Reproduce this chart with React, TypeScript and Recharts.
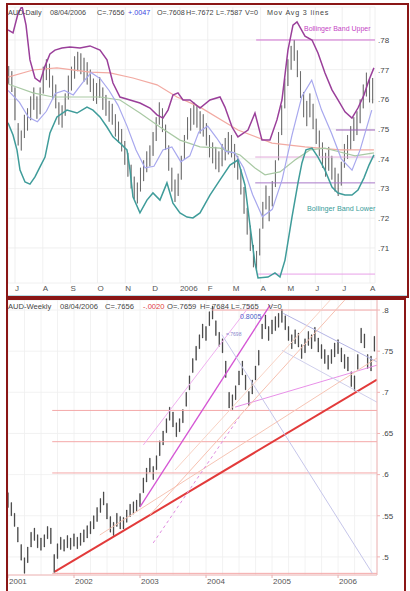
import React from "react";
import { ComposedChart, Bar, Line, XAxis, YAxis, CartesianGrid } from "recharts";

// ---------- daily panel (x = days from 1 Jul 2005) ----------
const DAILY_START = -7;
const DAILY_STEP = 3.5;

const dailyLow = [
  0.7652, 0.7625, 0.753, 0.7445, 0.7428, 0.747, 0.7495, 0.753, 0.7565, 0.7535,
  0.755, 0.762, 0.7665, 0.764, 0.76, 0.757, 0.7515, 0.7505, 0.7545, 0.76,
  0.763, 0.767, 0.7695, 0.7685, 0.766, 0.765, 0.7625, 0.7595, 0.7585, 0.7605,
  0.7565, 0.7545, 0.7525, 0.7515, 0.7475, 0.7455, 0.7425, 0.738, 0.734, 0.73,
  0.7265, 0.725, 0.729, 0.7325, 0.7355, 0.7375, 0.741, 0.746, 0.7515, 0.749,
  0.743, 0.736, 0.729, 0.7255, 0.7275, 0.733, 0.74, 0.7465, 0.7495, 0.7515,
  0.7505, 0.7485, 0.7475, 0.7445, 0.7405, 0.7385, 0.7365, 0.7355, 0.7375, 0.7395,
  0.7415, 0.7405, 0.737, 0.733, 0.728, 0.7215, 0.7145, 0.709, 0.7035, 0.702,
  0.7075, 0.7165, 0.723, 0.719, 0.724, 0.7305, 0.7395, 0.748, 0.757, 0.7645,
  0.77, 0.773, 0.7675, 0.7605, 0.754, 0.751, 0.754, 0.75, 0.745, 0.741,
  0.737, 0.734, 0.736, 0.733, 0.729, 0.7275, 0.731, 0.737, 0.74, 0.743,
  0.746, 0.748, 0.752, 0.757, 0.761, 0.759, 0.7587,
];
const dailyHigh = [
  0.7712, 0.7695, 0.764, 0.752, 0.7495, 0.7548, 0.757, 0.761, 0.764, 0.761,
  0.764, 0.771, 0.7735, 0.772, 0.768, 0.765, 0.759, 0.758, 0.762, 0.768,
  0.771, 0.7745, 0.776, 0.7755, 0.774, 0.7725, 0.77, 0.767, 0.7655, 0.7675,
  0.764, 0.7615, 0.7595, 0.7585, 0.755, 0.7525, 0.75, 0.746, 0.742, 0.738,
  0.734, 0.732, 0.737, 0.7395, 0.7425, 0.7445, 0.749, 0.754, 0.759, 0.757,
  0.7515, 0.7445, 0.737, 0.733, 0.735, 0.741, 0.748, 0.754, 0.757, 0.759,
  0.758, 0.756, 0.755, 0.752, 0.748, 0.7455, 0.744, 0.7425, 0.745, 0.747,
  0.749, 0.748, 0.745, 0.741, 0.7365, 0.7305, 0.7235, 0.7175, 0.711, 0.709,
  0.7165, 0.7255, 0.731, 0.7275, 0.7325, 0.7395, 0.749, 0.758, 0.767, 0.7735,
  0.778, 0.78, 0.7765, 0.7695, 0.7625, 0.7595, 0.762, 0.7585, 0.7535, 0.7495,
  0.7455, 0.742, 0.744, 0.741, 0.737, 0.735, 0.739, 0.745, 0.748, 0.751,
  0.754, 0.756, 0.76, 0.765, 0.769, 0.767, 0.7672,
];

const monthTicks = [0, 31, 62, 92, 123, 153, 184, 215, 243, 274, 304, 335, 365, 396];
const monthLabels = ["J", "A", "S", "O", "N", "D", "2006", "F", "M", "A", "M", "J", "J", "A"];
const dailyPriceTicks = [0.71, 0.72, 0.73, 0.74, 0.75, 0.76, 0.77, 0.78];

const bbUpper: [number, number][] = [
  [-7.8, 0.7834], [-2.2, 0.7824], [3.3, 0.7888], [7.8, 0.7914], [12.3, 0.785], [16.7, 0.7733],
  [22.3, 0.7672], [27.9, 0.7659], [33.5, 0.7712], [39, 0.7753], [44.6, 0.7766], [52.4, 0.7773],
  [61.3, 0.7776], [72.5, 0.7773], [83.7, 0.778], [94.8, 0.7766], [102.6, 0.7733], [109.3, 0.7655],
  [117.1, 0.7608], [128.3, 0.7598], [139.4, 0.7588], [150.6, 0.7571], [158.4, 0.7548], [165.1, 0.7537],
  [170.7, 0.7564], [176.2, 0.7615], [181.8, 0.7622], [187.4, 0.7598], [195.2, 0.7598], [206.4, 0.7571],
  [217.5, 0.7598], [228.7, 0.7608], [234.2, 0.7574], [242.1, 0.7507], [248.7, 0.7474], [259.9, 0.7497],
  [267.7, 0.7554], [275.5, 0.7463], [284.4, 0.7463], [292.2, 0.7531], [297.8, 0.7598], [304.5, 0.7766],
  [310.1, 0.785], [314.6, 0.7861], [323.5, 0.7813], [331.3, 0.78], [338, 0.7756], [345.8, 0.7689],
  [353.6, 0.7632], [360.3, 0.7598], [368.1, 0.7558], [375.9, 0.7537], [382.6, 0.7571], [389.3, 0.7615],
  [394.9, 0.7665], [400.4, 0.7706],
];
const bbLower: [number, number][] = [
  [-7.8, 0.7521], [-2.2, 0.748], [2.2, 0.743], [5.6, 0.7362], [11.2, 0.7322], [16.7, 0.7315],
  [22.3, 0.7339], [27.9, 0.7373], [33.5, 0.7406], [39, 0.7487], [46.8, 0.7541], [58, 0.7564],
  [69.2, 0.7554], [80.3, 0.7574], [87, 0.7564], [94.8, 0.7541], [102.6, 0.7507], [109.3, 0.7474],
  [117.1, 0.7453], [124.9, 0.743], [128.3, 0.7362], [131.6, 0.7272], [139.4, 0.7218], [147.2, 0.7261],
  [153.9, 0.7285], [161.7, 0.7261], [169.5, 0.7319], [176.2, 0.7251], [184, 0.7218], [191.9, 0.7204],
  [198.5, 0.7201], [206.4, 0.7218], [217.5, 0.7278], [228.7, 0.7329], [239.8, 0.7379], [248.7, 0.7396],
  [256.5, 0.7312], [262.1, 0.7177], [267.7, 0.7049], [271.1, 0.6999], [282.2, 0.7002], [290, 0.7016],
  [295.6, 0.7002], [301.2, 0.7059], [309, 0.7204], [315.7, 0.7319], [320.1, 0.7386], [324.6, 0.743],
  [331.3, 0.7436], [338, 0.7406], [345.8, 0.7362], [353.6, 0.7305], [360.3, 0.7285], [368.1, 0.7278],
  [375.9, 0.7278], [382.6, 0.7295], [389.3, 0.7336], [394.9, 0.7379], [400.4, 0.7413],
];
const maLong: [number, number][] = [
  [-7.8, 0.7675], [20.1, 0.7699], [46.8, 0.7706], [83.7, 0.7692], [106, 0.7689], [131.6, 0.7672],
  [158.4, 0.7649], [180.7, 0.7608], [206.4, 0.7574], [248.7, 0.7497], [286.7, 0.7453], [323.5, 0.744],
  [362.5, 0.743], [400.4, 0.743],
];
const maMid: [number, number][] = [
  [-7.8, 0.7652], [20.1, 0.7622], [42.4, 0.7608], [69.2, 0.7608], [94.8, 0.7608], [117.1, 0.7598],
  [139.4, 0.7554], [161.7, 0.7507], [184, 0.7463], [206.4, 0.744], [228.7, 0.7436], [251, 0.7413],
  [267.7, 0.7369], [278.9, 0.7346], [295.6, 0.7356], [312.3, 0.7396], [329.1, 0.743], [345.8, 0.7436],
  [362.5, 0.7423], [379.3, 0.741], [400.4, 0.742],
];
const maShort: [number, number][] = [
  [-7.8, 0.763], [5, 0.759], [15, 0.754], [25, 0.7525], [35, 0.756], [45, 0.762], [55, 0.763],
  [65, 0.7615], [75, 0.7655], [85, 0.769], [95, 0.767], [105, 0.763], [115, 0.758], [125, 0.751],
  [135, 0.743], [145, 0.737], [155, 0.7375], [165, 0.743], [175, 0.744], [185, 0.739], [195, 0.741],
  [205, 0.749], [215, 0.751], [225, 0.747], [235, 0.7425], [245, 0.742], [255, 0.737], [265, 0.728],
  [276, 0.7205], [287, 0.723], [298, 0.733], [309, 0.748], [320, 0.761], [331, 0.7665], [342, 0.7564],
  [353, 0.7487], [364, 0.74], [376, 0.7362], [385, 0.743], [398, 0.7564],
];
const dailyLevels = [
  { from: 269, to: 401.6, v: 0.78, color: "#d070d0" },
  { from: 358, to: 401.6, v: 0.7497, color: "#9a60b8" },
  { from: 268, to: 401.6, v: 0.7406, color: "#e0a8d8" },
  { from: 268, to: 401.6, v: 0.7319, color: "#a878c8" },
  { from: 271, to: 401.6, v: 0.7012, color: "#e8a0e8" },
];

// ---------- weekly panel (x = year) ----------
const WEEKLY_START = 2001;
const WEEKLY_STEP = 0.05;
const weeklyLow = [
  0.56, 0.55, 0.537, 0.518, 0.496, 0.48, 0.493, 0.512, 0.52, 0.511,
  0.508, 0.512, 0.522, 0.516, 0.481, 0.498, 0.509, 0.507, 0.511, 0.509,
  0.513, 0.51, 0.514, 0.518, 0.523, 0.528, 0.534, 0.543, 0.554, 0.563,
  0.546, 0.53, 0.526, 0.537, 0.534, 0.534, 0.542, 0.549, 0.552, 0.555,
  0.561, 0.578, 0.591, 0.603, 0.594, 0.606, 0.623, 0.636, 0.651, 0.666,
  0.658, 0.646, 0.652, 0.663, 0.683, 0.703, 0.724, 0.739, 0.753, 0.766,
  0.763, 0.781, 0.789, 0.769, 0.756, 0.748, 0.718, 0.681, 0.679, 0.691,
  0.709, 0.721, 0.703, 0.684, 0.698, 0.715, 0.733, 0.765, 0.777, 0.763,
  0.771, 0.775, 0.779, 0.785, 0.776, 0.763, 0.753, 0.759, 0.755, 0.741,
  0.748, 0.757, 0.753, 0.762, 0.749, 0.741, 0.735, 0.728, 0.735, 0.743,
  0.747, 0.737, 0.729, 0.726, 0.707, 0.702, 0.728, 0.76, 0.754, 0.729,
  0.726, 0.75,
];
const weeklyHigh = [
  0.578, 0.566, 0.553, 0.536, 0.515, 0.499, 0.512, 0.53, 0.535, 0.527,
  0.523, 0.527, 0.537, 0.535, 0.503, 0.516, 0.524, 0.521, 0.526, 0.523,
  0.528, 0.524, 0.529, 0.533, 0.538, 0.543, 0.55, 0.56, 0.571, 0.579,
  0.565, 0.549, 0.542, 0.553, 0.549, 0.548, 0.557, 0.564, 0.567, 0.569,
  0.577, 0.596, 0.608, 0.62, 0.61, 0.623, 0.641, 0.653, 0.668, 0.682,
  0.676, 0.663, 0.668, 0.679, 0.7, 0.72, 0.741, 0.756, 0.77, 0.783,
  0.78, 0.798, 0.805, 0.787, 0.773, 0.765, 0.738, 0.7, 0.697, 0.708,
  0.726, 0.738, 0.721, 0.701, 0.715, 0.732, 0.751, 0.783, 0.794, 0.78,
  0.788, 0.792, 0.796, 0.801, 0.793, 0.78, 0.77, 0.776, 0.772, 0.758,
  0.765, 0.774, 0.77, 0.779, 0.766, 0.758, 0.752, 0.745, 0.752, 0.76,
  0.764, 0.754, 0.746, 0.743, 0.725, 0.72, 0.746, 0.778, 0.771, 0.746,
  0.744, 0.768,
];
const quarterTicks = [
  2001, 2001.25, 2001.5, 2001.75, 2002, 2002.25, 2002.5, 2002.75, 2003, 2003.25, 2003.5, 2003.75,
  2004, 2004.25, 2004.5, 2004.75, 2005, 2005.25, 2005.5, 2005.75, 2006, 2006.25, 2006.5,
];
const weeklyPriceTicks = [0.5, 0.55, 0.6, 0.65, 0.7, 0.75, 0.8];

const trendLines = [
  { pts: [[2001.71, 0.482], [2006.59, 0.7155]], color: "#e23a3a", w: 2 },
  { pts: [[2003.0, 0.5607], [2004.97, 0.806]], color: "#d455d4", w: 1.3 },
  { pts: [[2003.05, 0.636], [2004.67, 0.806]], color: "#f0b0f0", w: 1 },
  { pts: [[2004.44, 0.682], [2006.59, 0.733]], color: "#e890e8", w: 1 },
  { pts: [[2005.17, 0.796], [2006.59, 0.737]], color: "#b4b4e4", w: 1 },
  { pts: [[2005.15, 0.751], [2006.59, 0.688]], color: "#cfcfec", w: 1 },
  { pts: [[2004.24, 0.77], [2006.52, 0.48]], color: "#c6c6ea", w: 1 },
  { pts: [[2002.39, 0.5266], [2006.59, 0.7417]], color: "#f6c4b4", w: 1 },
  { pts: [[2003.15, 0.551], [2006.1, 0.812]], color: "#f6c0b0", w: 1 },
  { pts: [[2003.53, 0.6056], [2005.88, 0.812]], color: "#f8d2c4", w: 1 },
];
const dashedLine = [[2003.2, 0.517], [2004.52, 0.672]];
const fibLevels = [
  { from: 2004.09, v: 0.8 },
  { from: 2001.67, v: 0.678 },
  { from: 2001.67, v: 0.64 },
  { from: 2001.67, v: 0.602 },
  { from: 2001.67, v: 0.48 },
];

const FONT = "'Liberation Sans', Arial, sans-serif";

const dailyRows = dailyLow.map((lo, i) => ({
  x: DAILY_START + i * DAILY_STEP,
  range: [lo, dailyHigh[i]],
}));
const weeklyRows = weeklyLow.map((lo, i) => ({
  x: WEEKLY_START + i * WEEKLY_STEP,
  range: [lo, weeklyHigh[i]],
}));
const pts = (arr: number[][]) => arr.map(([x, v]) => ({ x, v }));

const monthTick = (props: any) => {
  const { x, y, payload } = props;
  const i = monthTicks.indexOf(payload.value);
  return (
    <text x={x} y={y + 8} fontSize={8} fill="#555" textAnchor="start">
      {monthLabels[i]}
    </text>
  );
};

const yearTick = (props: any) => {
  const { x, y, payload } = props;
  if (!Number.isInteger(payload.value)) return <g />;
  return (
    <g>
      <line x1={x} x2={x} y1={y} y2={y + 3} stroke="#e8b0b0" />
      <text x={x + 1} y={y + 9} fontSize={8} fill="#555" textAnchor="start">
        {payload.value}
      </text>
    </g>
  );
};

const fmt = (v: number) => String(Number(v.toFixed(2))).replace(/^0/, "");

const txt = (left: number, top: number, s: string, color = "#444", size = 7.2, spacing = 0) => (
  <span style={{ position: "absolute", left, top, fontSize: size, color, whiteSpace: "pre", lineHeight: 1, letterSpacing: spacing }}>{s}</span>
);

const lineProps = { dot: false, isAnimationActive: false, dataKey: "v", legendType: "none" as const };

export default function App() {
  return (
    <div style={{ position: "absolute", left: 0, top: 0, width: 410, height: 591, overflow: "hidden", background: "#fff", fontFamily: FONT }}>
      {/* daily panel */}
      <div style={{ position: "absolute", left: 6, top: 3, width: 403, height: 295, boxSizing: "border-box", border: "2px solid #8a1616" }} />
      <div style={{ position: "absolute", left: 8, top: 5 }}>
        <ComposedChart width={398} height={291} data={dailyRows} margin={{ top: 2, right: 7, bottom: 0, left: 0 }}>
          <CartesianGrid stroke="#ececec" strokeWidth={0.8} />
          <XAxis type="number" dataKey="x" domain={[-7.8, 401.6]} ticks={monthTicks} interval={0} height={13}
            tickSize={0} tickMargin={0} axisLine={false} tickLine={false} tick={monthTick} allowDataOverflow />
          <YAxis orientation="right" type="number" domain={[0.6982, 0.7911]} ticks={dailyPriceTicks} width={24}
            tickSize={0} tickMargin={3} axisLine={false} tickLine={false} tickFormatter={fmt}
            tick={{ fontSize: 8, fill: "#444" }} allowDataOverflow />
          <Bar dataKey="range" barSize={3} fill="#1e1e1e" stroke="#1e1e1e" strokeWidth={0.4} isAnimationActive={false} />
          {dailyLevels.map((l, i) => (
            <Line key={"lv" + i} data={pts([[l.from, l.v], [l.to, l.v]])} stroke={l.color} strokeWidth={1} {...lineProps} />
          ))}
          <Line data={pts(maLong)} stroke="#f2aaa2" strokeWidth={1.2} {...lineProps} />
          <Line data={pts(maMid)} stroke="#a9c9a4" strokeWidth={1.2} {...lineProps} />
          <Line data={pts(maShort)} stroke="#a8a8ee" strokeWidth={1.2} {...lineProps} />
          <Line data={pts(bbUpper)} stroke="#9a3f9a" strokeWidth={1.5} {...lineProps} />
          <Line data={pts(bbLower)} stroke="#3f9c9a" strokeWidth={1.5} {...lineProps} />
        </ComposedChart>
      </div>
      <div style={{ position: "absolute", left: 8, top: 295, width: 399, height: 1, background: "#b9dde6" }} />
      {txt(8, 9, "AUD-Daily")}
      {txt(50, 9, "08/04/2006")}
      {txt(97, 9, "C=.7656")}
      {txt(128, 9, "+.0047", "#3a48e0")}
      {txt(157, 9, "O=.7608")}
      {txt(186, 9, "H=.7672")}
      {txt(216, 9, "L=.7587")}
      {txt(245, 9, "V=0")}
      {txt(267, 9, "Mov Avg 3 lines", "#444", 7.2, 0.8)}
      {txt(304, 25, "Bollinger Band Upper", "#c545c5", 7)}
      {txt(307, 205, "Bollinger Band Lower", "#3a9c9a", 7.2)}

      {/* weekly panel */}
      <div style={{ position: "absolute", left: 6, top: 298, width: 400, height: 300, boxSizing: "border-box", border: "2px solid #8a1616" }} />
      <div style={{ position: "absolute", left: 8, top: 300 }}>
        <ComposedChart width={396} height={291} data={weeklyRows} margin={{ top: 0, right: 5, bottom: 0, left: 0 }}>
          <CartesianGrid stroke="#efefef" strokeWidth={0.8} />
          <XAxis type="number" dataKey="x" domain={[2001, 2006.59]} ticks={quarterTicks} interval={0} height={16}
            tickSize={0} tickMargin={0} axisLine={{ stroke: "#f0b4b4" }} tickLine={false} tick={yearTick} allowDataOverflow />
          <YAxis orientation="right" type="number" domain={[0.478, 0.8122]} ticks={weeklyPriceTicks} width={22}
            tickSize={3} tickMargin={2} axisLine={{ stroke: "#f0b4b4" }} tickLine={{ stroke: "#f0b4b4" }}
            tickFormatter={fmt} tick={{ fontSize: 8, fill: "#444" }} allowDataOverflow />
          {fibLevels.map((l, i) => (
            <Line key={"fb" + i} data={pts([[l.from, l.v], [2006.59, l.v]])} stroke="#f4a8a8" strokeWidth={1} {...lineProps} />
          ))}
          <Bar dataKey="range" barSize={3} fill="#1e1e1e" stroke="#1e1e1e" strokeWidth={0.4} isAnimationActive={false} />
          {trendLines.map((t, i) => (
            <Line key={"tl" + i} data={pts(t.pts)} stroke={t.color} strokeWidth={t.w} {...lineProps} />
          ))}
          <Line data={pts(dashedLine)} stroke="#e08ce0" strokeWidth={1} strokeDasharray="3 3" {...lineProps} />
        </ComposedChart>
      </div>
      {txt(8, 303, "AUD-Weekly", "#444", 7.6)}
      {txt(60, 303, "08/04/2006", "#444", 7.6)}
      {txt(105, 303, "C=.7656", "#444", 7.6)}
      {txt(143, 303, "-.0020", "#e04040", 7.6)}
      {txt(167, 303, "O=.7659", "#444", 7.6)}
      {txt(200, 303, "H=.7684", "#444", 7.6)}
      {txt(231, 303, "L=.7565", "#444", 7.6)}
      {txt(268, 303, "V=0", "#444", 7.6)}
      {txt(240, 313, "0.8005", "#4c5cc8", 7)}
      {txt(226, 332, "=.7698", "#8888cc", 5)}
    </div>
  );
}
